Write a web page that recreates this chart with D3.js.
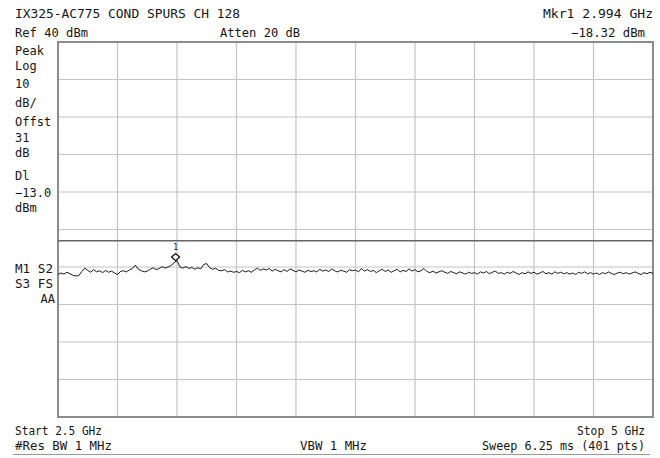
<!DOCTYPE html>
<html>
<head>
<meta charset="utf-8">
<script src="https://cdn.jsdelivr.net/npm/d3@7"></script>
<style>
  body { margin: 0; background: #fff; }
  svg { display: block; }
</style>
</head>
<body>
<svg id="chart"></svg>
<script>
// analyzer settings
const startGHz = 2.5, stopGHz = 5;
const refLevel = 40, dbPerDiv = 10, divisions = 10;
const displayLine = -13.0;
const marker = { freq: 2.994, level: -18.32 };

// header / footer / side annotations
const titleText = "IX325-AC775 COND SPURS CH 128";
const refText = "Ref 40 dBm";
const attenText = "Atten 20 dB";
const mkrFreqText = "Mkr1  2.994 GHz";
const mkrLevelText = "\u221218.32 dBm";
const sideText = ["Peak", "Log", "10", "dB/", "Offst", "31", "dB", "Dl", "\u221213.0", "dBm"];
const statusText = ["M1  S2", "S3  FS", "AA"];
const startText = "Start 2.5 GHz", stopText = "Stop 5 GHz";
const rbwText = "#Res BW 1 MHz", vbwText = "VBW 1 MHz", sweepText = "Sweep 6.25 ms (401 pts)";

// trace, dBm, evenly spaced from start to stop
const trace = [
  -22.0, -21.6, -21.9, -21.4, -21.8, -22.2, -22.4, -22.3, -21.2, -20.3,
  -20.9, -21.4, -20.7, -21.3, -21.0, -21.5, -20.9, -21.4, -21.1, -21.6,
  -22.0, -21.2, -21.0, -21.3, -20.8, -20.4, -19.5, -20.6, -21.0, -21.3,
  -21.1, -20.6, -20.2, -20.7, -20.4, -19.9, -20.3, -20.0, -19.6, -18.9,
  -18.32, -20.0, -20.3, -19.9, -20.4, -20.1, -20.6, -20.2, -20.5, -19.3,
  -19.1, -20.2, -20.6, -20.3, -20.9, -21.0, -20.7, -21.3, -21.1, -21.4,
  -21.2, -21.5, -20.9, -21.3, -21.0, -21.4, -20.8, -20.3, -20.9, -20.5,
  -20.8, -20.4, -21.1, -20.6, -21.0, -21.3, -20.7, -21.2, -20.5, -20.9,
  -21.3, -20.8, -21.1, -21.4, -20.9, -21.2, -21.0, -21.3, -20.6, -21.1,
  -20.8, -21.2, -20.5, -21.0, -21.3, -20.9, -21.1, -21.4, -20.7, -21.0,
  -20.8, -21.3, -20.4, -21.1, -20.7, -21.2, -20.9, -21.5, -21.0, -20.6,
  -21.2, -20.8, -21.4, -21.0, -20.6, -21.3, -20.9, -21.2, -20.5, -21.1,
  -20.7, -21.3, -21.0, -20.4, -21.2, -21.5, -21.1, -21.6, -21.3, -21.0,
  -21.4, -21.7, -21.2, -21.5, -21.8, -21.3, -21.6, -21.9, -21.4, -21.7,
  -21.5, -21.9, -21.3, -21.6, -21.2, -21.8, -21.4, -21.1, -21.7, -21.5,
  -21.9, -21.4, -21.7, -21.2, -21.6, -22.0, -21.5, -21.8, -21.3, -21.7,
  -21.4, -21.9, -21.6, -21.2, -21.8, -21.5, -21.9, -21.3, -21.7, -21.4,
  -21.8, -21.5, -21.9, -21.6, -22.0, -21.4, -21.7, -21.3, -21.8, -21.5,
  -21.9, -21.6, -22.0, -21.5, -21.8, -21.3, -21.7, -22.0, -21.6, -21.4,
  -21.8, -21.5, -21.9, -21.6, -21.3, -21.7, -22.0, -21.5, -21.8, -21.4,
  -21.7
];

const width = 660, height = 458;
const plotLeft = 58, plotRight = 653, plotTop = 42, plotBottom = 417;
const font = "'DejaVu Sans Mono', monospace";

const svg = d3.select('#chart')
  .attr('width', width)
  .attr('height', height)
  .attr('viewBox', [0, 0, width, height])
  .style('font', `12px ${font}`);

const x = d3.scaleLinear().domain([startGHz, stopGHz]).range([plotLeft, plotRight]);
const y = d3.scaleLinear()
  .domain([refLevel - dbPerDiv * divisions, refLevel])
  .range([plotBottom, plotTop]);

const xTicks = d3.range(divisions + 1).map(i => startGHz + i * (stopGHz - startGHz) / divisions);
const yTicks = d3.range(divisions + 1).map(i => refLevel - i * dbPerDiv);

// graticule
const grid = svg.append('g').attr('stroke', '#c4c4c4').attr('stroke-width', 1.2);
grid.selectAll('.vx').data(xTicks.slice(1, -1)).join('line')
  .attr('x1', d => x(d)).attr('x2', d => x(d))
  .attr('y1', plotTop).attr('y2', plotBottom);
grid.selectAll('.hy').data(yTicks.slice(1, -1)).join('line')
  .attr('x1', plotLeft).attr('x2', plotRight)
  .attr('y1', d => y(d)).attr('y2', d => y(d));

svg.append('rect')
  .attr('x', plotLeft).attr('y', plotTop)
  .attr('width', plotRight - plotLeft).attr('height', plotBottom - plotTop)
  .attr('fill', 'none').attr('stroke', '#8c8c8c').attr('stroke-width', 2);

// display line
svg.append('line')
  .attr('x1', plotLeft).attr('x2', plotRight)
  .attr('y1', y(displayLine)).attr('y2', y(displayLine))
  .attr('stroke', '#666').attr('stroke-width', 1.6);

// trace
const fx = d3.scaleLinear().domain([0, trace.length - 1]).range([startGHz, stopGHz]);
svg.append('path')
  .datum(trace)
  .attr('fill', 'none')
  .attr('stroke', '#1a1a1a')
  .attr('stroke-width', 1)
  .attr('stroke-linejoin', 'round')
  .attr('d', d3.line().x((d, i) => x(fx(i))).y(d => y(d)));

// marker 1
const mx = x(marker.freq), my = y(marker.level);
svg.append('path')
  .attr('d', `M${mx},${my} l4,-3.6 l-4,-3.6 l-4,3.6 z`)
  .attr('fill', '#fff').attr('stroke', '#111').attr('stroke-width', 1.3);
svg.append('text')
  .attr('x', mx).attr('y', my - 11)
  .attr('text-anchor', 'middle')
  .style('font-size', '8px')
  .attr('fill', '#111')
  .text('1');

// text
const label = (t, px, py, anchor, len) => {
  const el = svg.append('text')
    .attr('x', px).attr('y', py)
    .attr('text-anchor', anchor || 'start')
    .attr('fill', '#161616')
    .text(t);
  if (len) el.attr('textLength', len).attr('lengthAdjust', 'spacingAndGlyphs');
  return el;
};

label(titleText, 15, 18, 'start', 225);
label(refText, 15, 37, 'start', 73);
label(attenText, 220, 37, 'start', 80);
label(mkrFreqText, 653, 18, 'end', 110);
label(mkrLevelText, 645, 37, 'end', 74);

const sideY = [55, 70, 88, 107, 126, 142, 157, 180, 197, 212];
sideText.forEach((t, i) => label(t, 15, sideY[i]));
label(statusText[0], 15, 273, 'start', 38);
label(statusText[1], 15, 288, 'start', 38);
label(statusText[2], 55, 303, 'end');

label(startText, 15, 435, 'start', 87);
label(stopText, 645, 435, 'end', 68);
label(rbwText, 15, 450, 'start', 97);
label(vbwText, 300, 450, 'start', 67);
label(sweepText, 645, 450, 'end', 163);

svg.append('line')
  .attr('x1', 13).attr('x2', 650)
  .attr('y1', 454.5).attr('y2', 454.5)
  .attr('stroke', '#999').attr('stroke-width', 1);
</script>
</body>
</html>
